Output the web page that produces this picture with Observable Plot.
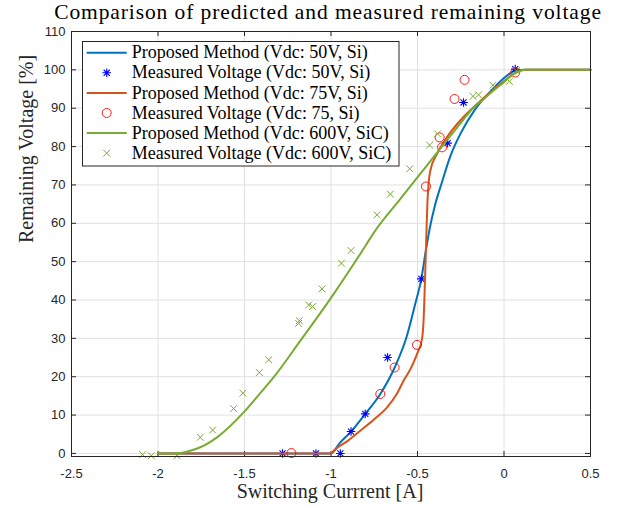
<!DOCTYPE html>
<html>
<head>
<meta charset="utf-8">
<script src="https://cdn.jsdelivr.net/npm/d3@7"></script>
<script src="https://cdn.jsdelivr.net/npm/@observablehq/plot@0.6"></script>
<style>
  html, body { margin: 0; padding: 0; background: #fff; }
</style>
</head>
<body>
<div id="chart"></div>
<script>
// ---------- data ----------
const titleText = "Comparison of predicted and measured remaining voltage";
const xLabel = "Switching Currrent [A]";
const yLabel = "Remaining Voltage [%]";
const xTicks = [-2.5, -2, -1.5, -1, -0.5, 0, 0.5];
const yTicks = [0, 10, 20, 30, 40, 50, 60, 70, 80, 90, 100, 110];

// Proposed method curve, Vdc 50V Si
const fit50X = [-2, -1, -0.95, -0.884, -0.802, -0.715, -0.632, -0.561, -0.513, -0.478, -0.455, -0.43, -0.40, -0.36, -0.31, -0.25, -0.17, -0.07, 0.02, 0.07, 0.12, 0.5];
const fit50Y = [0, 0, 2.7, 5.7, 10.3, 15.5, 22.4, 30.7, 39, 45.5, 52, 58.5, 64.5, 70.5, 77.5, 83.5, 89.5, 94.8, 98.6, 99.9, 100, 100];

// Proposed method curve, Vdc 75V Si
const fit75X = [-2, -1, -0.985, -0.9, -0.831, -0.75, -0.676, -0.62, -0.58, -0.535, -0.503, -0.474, -0.465, -0.455, -0.448, -0.443, -0.436, -0.426, -0.387, -0.33, -0.253, -0.156, -0.021, 0.06, 0.12, 0.5];
const fit75Y = [0, 0, 0.7, 3.4, 5.9, 8.9, 12, 15.5, 19, 22.5, 25.9, 29.8, 34.6, 47.6, 58, 65, 70.3, 73.7, 78.1, 82.4, 86.8, 91.1, 96.3, 99, 100, 100];

// Proposed method curve, Vdc 600V SiC
const fit600X = [-2, -1.9, -1.852, -1.8, -1.756, -1.659, -1.505, -1.409, -1.332, -1.177, -1.004, -0.831, -0.744, -0.6, -0.445, -0.35, -0.253, -0.195, -0.12, -0.06, 0, 0.055, 0.133, 0.5];
const fit600Y = [0, 0, 0.26, 0.9, 1.6, 4.2, 10.7, 15.7, 19.8, 29.4, 40.3, 52, 58.1, 66.3, 75.1, 80.5, 86, 89.2, 92.3, 94.6, 96.8, 98.9, 100, 100];

// Measured, Vdc 50V Si
const meas50X = [-1.28, -1.087, -0.946, -0.884, -0.802, -0.673, -0.478, -0.326, -0.234, 0.065];
const meas50Y = [0, 0, 0, 5.7, 10.3, 25, 45.5, 80.9, 91.5, 100.2];

// Measured, Vdc 75 Si
const meas75X = [-1.229, -0.715, -0.632, -0.503, -0.451, -0.372, -0.358, -0.286, -0.228, 0.065];
const meas75Y = [0.1, 15.5, 22.4, 28.3, 69.6, 82.4, 79.8, 92.4, 97.4, 99.3];

// Measured, Vdc 600V SiC
const meas600X = [-2.089, -2.039, -1.89, -1.756, -1.684, -1.563, -1.509, -1.414, -1.36, -1.187, -1.183, -1.129, -1.106, -1.052, -0.94, -0.884, -0.734, -0.657, -0.545, -0.43, -0.384, -0.179, -0.147, -0.064, 0.031, 0.071];
const meas600Y = [-0.3, -0.6, -0.6, 4.2, 6.1, 11.7, 15.7, 21.1, 24.4, 33.9, 34.6, 38.7, 38.3, 42.9, 49.6, 52.9, 62.2, 67.6, 74.2, 80.4, 83.3, 93.1, 93.5, 96, 97, 99.8];

const legendLabels = [
  "Proposed Method (Vdc: 50V, Si)",
  "Measured Voltage (Vdc: 50V, Si)",
  "Proposed Method (Vdc: 75V, Si)",
  "Measured Voltage (Vdc: 75, Si)",
  "Proposed Method (Vdc: 600V, SiC)",
  "Measured Voltage (Vdc: 600V, SiC)"
];

// ---------- styling ----------
const C50 = "#0072BD", C75 = "#D95319", C600 = "#77AC30";
const M50 = "#0000FF", M75 = "#FF0000", M600 = "#77AC30";
const serif = "'Liberation Serif', 'Times New Roman', serif";
const axisColor = "#262626";
const gridColor = "#e0e0e0";

const pts = (xs, ys) => xs.map((x, i) => ({x, y: ys[i]}));

// custom marker symbols (MATLAB-like '*' and 'x')
const asteriskSym = {
  draw(ctx, size) {
    const r = Math.sqrt(size / Math.PI), d = r * Math.SQRT1_2;
    ctx.moveTo(-r, 0); ctx.lineTo(r, 0);
    ctx.moveTo(0, -r); ctx.lineTo(0, r);
    ctx.moveTo(-d, -d); ctx.lineTo(d, d);
    ctx.moveTo(-d, d); ctx.lineTo(d, -d);
  }
};
const timesSym = {
  draw(ctx, size) {
    const r = Math.sqrt(size / Math.PI) * Math.SQRT1_2;
    ctx.moveTo(-r, -r); ctx.lineTo(r, r);
    ctx.moveTo(-r, r); ctx.lineTo(r, -r);
  }
};

const W = 624, H = 506;
const mL = 71, mR = 34, mT = 31, mB = 50;
const frameW = W - mL - mR, frameH = H - mT - mB;
const tickLen = 5;

const chart = Plot.plot({
  width: W,
  height: H,
  marginLeft: mL,
  marginRight: mR,
  marginTop: mT,
  marginBottom: mB,
  x: {domain: [-2.5, 0.5]},
  y: {domain: [-0.8, 110]},
  style: {fontFamily: "'Liberation Sans', Arial, sans-serif", fontSize: "13px", color: axisColor, background: "#fff", overflow: "visible"},
  marks: [
    Plot.gridX(xTicks, {stroke: gridColor, strokeOpacity: 1}),
    Plot.gridY(yTicks, {stroke: gridColor, strokeOpacity: 1}),
    Plot.axisX(xTicks, {anchor: "bottom", tickSize: 0, tickPadding: 12, tickFormat: d => String(d), label: null, fontSize: 13, fill: axisColor}),
    Plot.axisY(yTicks, {anchor: "left", tickSize: 0, tickPadding: 6, tickFormat: d => String(d), label: null, fontSize: 13, fill: axisColor}),
    // inward ticks on all four sides
    Plot.tickX(xTicks, {x: d => d, insetTop: frameH - tickLen, stroke: axisColor}),
    Plot.tickX(xTicks, {x: d => d, insetBottom: frameH - tickLen, stroke: axisColor}),
    Plot.tickY(yTicks, {y: d => d, insetRight: frameW - tickLen, stroke: axisColor}),
    Plot.tickY(yTicks, {y: d => d, insetLeft: frameW - tickLen, stroke: axisColor}),
    // series in MATLAB plot order
    Plot.line(pts(fit50X, fit50Y), {x: "x", y: "y", stroke: C50, strokeWidth: 2, curve: "monotone-x"}),
    Plot.dot(pts(meas50X, meas50Y), {x: "x", y: "y", symbol: asteriskSym, r: 4.3, stroke: M50, fill: "none", strokeWidth: 1.1}),
    Plot.line(pts(fit75X, fit75Y), {x: "x", y: "y", stroke: C75, strokeWidth: 2, curve: "monotone-x"}),
    Plot.dot(pts(meas75X, meas75Y), {x: "x", y: "y", symbol: "circle", r: 4.5, stroke: M75, fill: "none", strokeWidth: 0.9}),
    Plot.line(pts(fit600X, fit600Y), {x: "x", y: "y", stroke: C600, strokeWidth: 2, curve: "monotone-x"}),
    Plot.dot(pts(meas600X, meas600Y), {x: "x", y: "y", symbol: timesSym, r: 4.8, stroke: M600, fill: "none", strokeWidth: 1}),
    Plot.frame({stroke: axisColor, strokeWidth: 1}),
    // title and axis labels
    Plot.text([titleText], {text: d => d, frameAnchor: "top", lineAnchor: "middle", dx: -3, dy: -19.4, fontFamily: serif, fontSize: 21.5, fill: "#000"}),
    Plot.text([xLabel], {text: d => d, frameAnchor: "bottom", lineAnchor: "middle", dx: -1, dy: 34.6, fontFamily: serif, fontSize: 20, fill: "#262626"}),
    Plot.text([yLabel], {text: d => d, frameAnchor: "left", lineAnchor: "middle", rotate: -90, dx: -45.4, dy: -1, fontFamily: serif, fontSize: 20, fill: "#262626"})
  ]
});

document.getElementById("chart").appendChild(chart);

const svg = d3.select(chart);
// slight letter spacing on the title to match the wider TeX font
svg.selectAll("text").filter(function() { return this.textContent === titleText; })
  .attr("letter-spacing", "0.9px");

// ---------- legend (MATLAB-style box, top-left inside the axes) ----------
const lg = svg.append("g").attr("class", "legend").attr("text-anchor", "start");
const box = {x: 82.5, y: 41.5, w: 316.5, h: 124.5};
lg.append("rect")
  .attr("x", box.x).attr("y", box.y).attr("width", box.w).attr("height", box.h)
  .attr("fill", "#fff").attr("stroke", axisColor).attr("stroke-width", 1);

const legendItems = [
  {type: "line", color: C50},
  {type: "star", color: M50},
  {type: "line", color: C75},
  {type: "circle", color: M75},
  {type: "line", color: C600},
  {type: "times", color: M600}
];
const rowY0 = 52.7, rowStep = 20.1;
const sampleX0 = 86.7, sampleX1 = 126.7, textX = 131.7;
legendItems.forEach((it, i) => {
  const cy = rowY0 + i * rowStep;
  const cx = (sampleX0 + sampleX1) / 2;
  if (it.type === "line") {
    lg.append("line").attr("x1", sampleX0).attr("x2", sampleX1).attr("y1", cy).attr("y2", cy)
      .attr("stroke", it.color).attr("stroke-width", 2);
  } else if (it.type === "circle") {
    lg.append("circle").attr("cx", cx).attr("cy", cy).attr("r", 4.5)
      .attr("fill", "none").attr("stroke", it.color).attr("stroke-width", 0.9);
  } else {
    const sym = it.type === "star" ? asteriskSym : timesSym;
    const r = it.type === "star" ? 4.3 : 4.8;
    lg.append("path").attr("transform", `translate(${cx},${cy})`)
      .attr("d", d3.symbol(sym, Math.PI * r * r)())
      .attr("fill", "none").attr("stroke", it.color).attr("stroke-width", it.type === "star" ? 1.1 : 1);
  }
  lg.append("text").attr("x", textX).attr("y", cy + 5.6)
    .attr("text-anchor", "start")
    .attr("font-family", serif).attr("font-size", 18).attr("fill", "#000")
    .text(legendLabels[i]);
});
</script>
</body>
</html>
